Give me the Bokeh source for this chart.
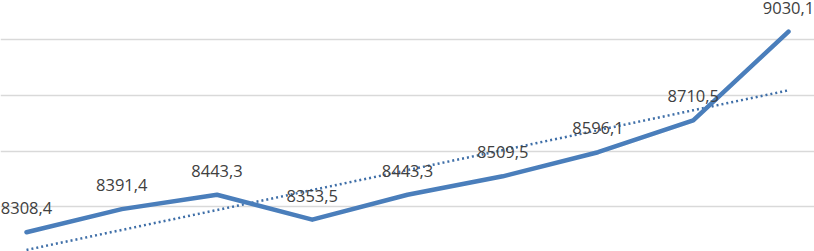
import numpy as np
from bokeh.plotting import figure
from bokeh.models import ColumnDataSource, FixedTicker, Range1d, LabelSet
from bokeh.core.properties import value
from bokeh.embed import file_html
from bokeh.resources import INLINE

periods = list(range(9))
values = [8308.4, 8391.4, 8443.3, 8353.5, 8443.3, 8509.5, 8596.1, 8710.5, 9030.1]
labels = ["8308,4", "8391,4", "8443,3", "8353,5", "8443,3", "8509,5", "8596,1", "8710,5", "9030,1"]
grid_ticks = [8200, 8400, 8600, 8800, 9000]

coef = np.polyfit(periods, values, 1)
trend = [coef[0] * x + coef[1] for x in periods]

src = ColumnDataSource(dict(x=periods, y=values, lab=labels, trend=trend))

p = figure(width=814, height=251, output_backend="svg", toolbar_location=None,
           x_range=Range1d(-0.273, 8.273), y_range=Range1d(8239, 9142),
           min_border=0, outline_line_color=None)
p.styles = {"position": "absolute", "top": "0px", "left": "0px"}
p.axis.visible = False
p.xgrid.grid_line_color = None
p.ygrid.ticker = FixedTicker(ticks=grid_ticks)
p.ygrid.grid_line_color = "#d9d9d9"
p.ygrid.grid_line_width = 1.5

p.line("x", "trend", source=src, line_color="#3f6fa8", line_width=2.5, line_dash="2 3")
p.line("x", "y", source=src, line_color="#4a7ebb", line_width=4.5, line_join="round", line_cap="round")

ls = LabelSet(x="x", y="y", text="lab", source=src, text_align="center", text_baseline="middle",
              y_offset=24, text_font=value("Open Sans"), text_font_size="16.5px", text_color="#404040")
p.add_layout(ls)

open("out.html", "w").write(file_html(p, INLINE))
